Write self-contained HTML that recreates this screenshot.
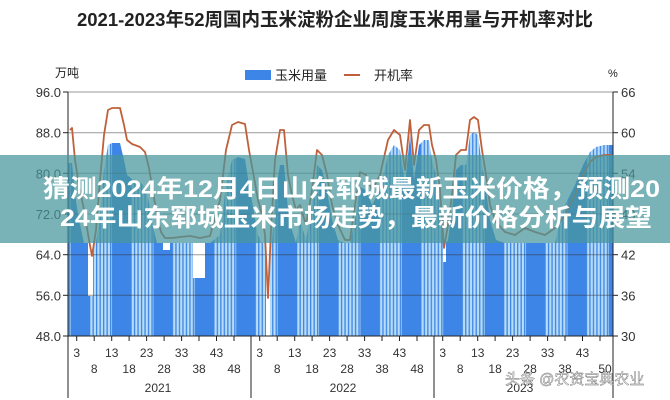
<!DOCTYPE html>
<html><head><meta charset="utf-8">
<style>
html,body{margin:0;padding:0;background:#fff;overflow:hidden;width:670px;height:400px;}
#w{width:670px;height:400px;overflow:hidden;position:relative;font-family:"Liberation Sans","Noto Sans CJK SC",sans-serif;}
svg{position:absolute;left:0;top:0;}
.band{position:absolute;left:0;top:155px;width:670px;height:88px;background:rgba(70,150,155,0.72);}
</style></head><body><div id="w">
<svg width="670" height="400" xmlns="http://www.w3.org/2000/svg" font-family="Liberation Sans, Noto Sans CJK SC, sans-serif">
<defs>
<pattern id="bp" patternUnits="userSpaceOnUse" x="89" y="0" width="41.4" height="400">
<rect x="0" y="0" width="41.4" height="400" fill="#3d85e6"/>
<rect x="0" y="0" width="23" height="400" fill="#b7dcf7"/>
<rect x="0" y="0" width="1.3" height="400" fill="#3d85e6"/>
<rect x="3.5" y="0" width="1.3" height="400" fill="#3d85e6"/>
<rect x="7" y="0" width="1.3" height="400" fill="#3d85e6"/>
<rect x="10.5" y="0" width="1.3" height="400" fill="#3d85e6"/>
<rect x="14" y="0" width="1.3" height="400" fill="#3d85e6"/>
<rect x="17.5" y="0" width="1.3" height="400" fill="#3d85e6"/>
<rect x="21" y="0" width="1.3" height="400" fill="#3d85e6"/>
</pattern>
</defs>
<text x="335" y="26" text-anchor="middle" font-size="18.5" font-weight="bold" fill="#222">2021-2023年52周国内玉米淀粉企业周度玉米用量与开机率对比</text>
<rect x="245" y="70" width="26" height="10" fill="#3d85e6"/><text x="275" y="80" font-size="13" fill="#222">玉米用量</text>
<line x1="344" y1="75" x2="360" y2="75" stroke="#c0603a" stroke-width="2"/><text x="374" y="80" font-size="13" fill="#222">开机率</text>
<text x="55" y="77" font-size="12" fill="#222">万吨</text>
<text x="608" y="77" font-size="11" fill="#222">%</text>

<polygon fill="url(#bp)" points="68,163 72,163 75,195 79,220 84,243 88,243 88,296 93,296 93,243 96,243 100,215 104,170 108,145 112,143 120,143 124,160 127,175 132,179 140,182 145,187 149,203 153,227 157,243 163,243 163,250 170,250 170,243 193,243 193,278 205,278 205,243 210,243 220,235 226,185 232,160 238,157 245,159 249,185 253,207 258,235 262,243 266,243 266,336 270,336 270,243 272,243 275,195 280,165 284,165 288,210 292,230 296,243 300,220 306,240 312,205 317,165 322,170 327,190 332,220 338,240 345,243 350,243 355,220 360,187 366,190 372,205 380,190 388,155 394,145 400,150 405,185 410,135 414,180 419,145 424,140 429,140 432,160 436,175 440,205 443,243 443,262 446,262 446,243 448,240 452,210 456,170 461,165 466,165 470,135 474,132 478,135 482,165 486,190 490,220 496,240 505,243 555,243 560,220 565,205 575,185 583,165 590,152 596,147 604,145 613,145 613,336 68,336"/>

<g stroke="#333" stroke-opacity="0.5">
<line x1="68" y1="92" x2="613" y2="92"/><line x1="68" y1="132.7" x2="613" y2="132.7"/><line x1="68" y1="173.3" x2="613" y2="173.3"/><line x1="68" y1="214" x2="613" y2="214"/><line x1="68" y1="254.7" x2="613" y2="254.7"/><line x1="68" y1="295.3" x2="613" y2="295.3"/>
</g>
<g stroke="#222">
<line x1="63" y1="92" x2="68" y2="92"/><line x1="63" y1="132.7" x2="68" y2="132.7"/><line x1="63" y1="173.3" x2="68" y2="173.3"/><line x1="63" y1="214" x2="68" y2="214"/><line x1="63" y1="254.7" x2="68" y2="254.7"/><line x1="63" y1="295.3" x2="68" y2="295.3"/><line x1="63" y1="336" x2="68" y2="336"/>
<line x1="613" y1="92" x2="618" y2="92"/><line x1="613" y1="132.7" x2="618" y2="132.7"/><line x1="613" y1="173.3" x2="618" y2="173.3"/><line x1="613" y1="214" x2="618" y2="214"/><line x1="613" y1="254.7" x2="618" y2="254.7"/><line x1="613" y1="295.3" x2="618" y2="295.3"/><line x1="613" y1="336" x2="618" y2="336"/>
</g>
<g font-size="13" fill="#333" text-anchor="end">
<text x="61" y="97">96.0</text><text x="61" y="137.7">88.0</text><text x="61" y="178.3">80.0</text><text x="61" y="219">72.0</text><text x="61" y="259.7">64.0</text><text x="61" y="300.3">56.0</text><text x="61" y="341">48.0</text>
</g>
<g font-size="13" fill="#333">
<text x="621" y="97">66</text><text x="621" y="137.7">60</text><text x="621" y="178.3">54</text><text x="621" y="219">48</text><text x="621" y="259.7">42</text><text x="621" y="300.3">36</text><text x="621" y="341">30</text>
</g>

<path d="M70 130L72 128L75 160L79 185L84 210L89 240L92 256L96 230L100 180L104 135L108 110L112 108L120 108L124 125L127 140L132 144L140 147L145 152L149 168L153 192L157 215L161 232L165 238L172 238L180 237L190 236L200 238L210 236L220 200L226 150L232 125L238 122L245 124L249 150L253 172L258 200L262 215L265 235L268 298L271 230L275 160L280 130L284 130L288 175L292 195L296 210L300 205L306 225L312 190L317 150L322 155L327 175L332 205L338 225L345 240L350 240L355 205L360 172L366 175L372 190L380 175L388 140L394 130L400 135L405 170L410 120L414 165L419 130L424 125L429 125L432 145L436 160L440 190L444 248L448 225L452 195L456 155L461 150L466 150L470 120L474 117L478 120L482 150L486 175L490 205L496 222L505 232L515 235L525 228L535 232L545 235L555 228L565 215L575 195L583 175L590 162L596 157L604 155L611 155" fill="none" stroke="#c0603a" stroke-width="1.8" stroke-linejoin="round"/>

<g stroke="#222">
<line x1="68" y1="92" x2="68" y2="398"/><line x1="613" y1="92" x2="613" y2="398"/>
<line x1="68" y1="336" x2="613" y2="336"/>
<line x1="251" y1="336" x2="251" y2="398"/><line x1="434" y1="336" x2="434" y2="398"/>
<line x1="76.7" y1="336" x2="76.7" y2="341"/><line x1="94.2" y1="336" x2="94.2" y2="341"/><line x1="111.7" y1="336" x2="111.7" y2="341"/><line x1="129.1" y1="336" x2="129.1" y2="341"/><line x1="146.6" y1="336" x2="146.6" y2="341"/><line x1="164.1" y1="336" x2="164.1" y2="341"/><line x1="181.6" y1="336" x2="181.6" y2="341"/><line x1="199" y1="336" x2="199" y2="341"/><line x1="216.5" y1="336" x2="216.5" y2="341"/><line x1="234" y1="336" x2="234" y2="341"/>
<line x1="259.7" y1="336" x2="259.7" y2="341"/><line x1="277.2" y1="336" x2="277.2" y2="341"/><line x1="294.7" y1="336" x2="294.7" y2="341"/><line x1="312.1" y1="336" x2="312.1" y2="341"/><line x1="329.6" y1="336" x2="329.6" y2="341"/><line x1="347.1" y1="336" x2="347.1" y2="341"/><line x1="364.6" y1="336" x2="364.6" y2="341"/><line x1="382" y1="336" x2="382" y2="341"/><line x1="399.5" y1="336" x2="399.5" y2="341"/><line x1="417" y1="336" x2="417" y2="341"/>
<line x1="442.7" y1="336" x2="442.7" y2="341"/><line x1="460.2" y1="336" x2="460.2" y2="341"/><line x1="477.7" y1="336" x2="477.7" y2="341"/><line x1="495.1" y1="336" x2="495.1" y2="341"/><line x1="512.6" y1="336" x2="512.6" y2="341"/><line x1="530.1" y1="336" x2="530.1" y2="341"/><line x1="547.6" y1="336" x2="547.6" y2="341"/><line x1="565" y1="336" x2="565" y2="341"/><line x1="582.5" y1="336" x2="582.5" y2="341"/><line x1="600" y1="336" x2="600" y2="341"/>
</g>
<g font-size="12" fill="#333" text-anchor="middle">
<text x="76.7" y="357">3</text><text x="94.2" y="373">8</text><text x="111.7" y="357">13</text><text x="129.1" y="373">18</text><text x="146.6" y="357">23</text><text x="164.1" y="373">28</text><text x="181.6" y="357">33</text><text x="199" y="373">38</text><text x="216.5" y="357">43</text><text x="234" y="373">48</text>
<text x="259.7" y="357">3</text><text x="277.2" y="373">8</text><text x="294.7" y="357">13</text><text x="312.1" y="373">18</text><text x="329.6" y="357">23</text><text x="347.1" y="373">28</text><text x="364.6" y="357">33</text><text x="382" y="373">38</text><text x="399.5" y="357">43</text><text x="417" y="373">48</text>
<text x="442.7" y="357">3</text><text x="460.2" y="373">8</text><text x="477.7" y="357">13</text><text x="495.1" y="373">18</text><text x="512.6" y="357">23</text><text x="530.1" y="373">28</text><text x="547.6" y="357">33</text><text x="565" y="373">38</text><text x="582.5" y="357">43</text><text x="605" y="373">50</text>
<text x="158" y="392">2021</text><text x="343" y="392">2022</text><text x="520" y="392">2023</text>
</g>
<rect x="0" y="155" width="670" height="88" fill="rgb(70,150,155)" fill-opacity="0.72"/>
<g font-size="24.5" font-weight="bold" fill="#fff">
<text x="43" y="197" textLength="617" lengthAdjust="spacingAndGlyphs">猜测2024年12月4日山东郓城最新玉米价格，预测20</text>
<text x="60" y="226" textLength="592" lengthAdjust="spacingAndGlyphs">24年山东郓城玉米市场走势，最新价格分析与展望</text>
</g>
<text x="505" y="384" font-size="15" fill="#f4f4f4" stroke="#666" stroke-width="0.4">头条 @农资宝典农业</text>
</svg>
</div></body></html>
